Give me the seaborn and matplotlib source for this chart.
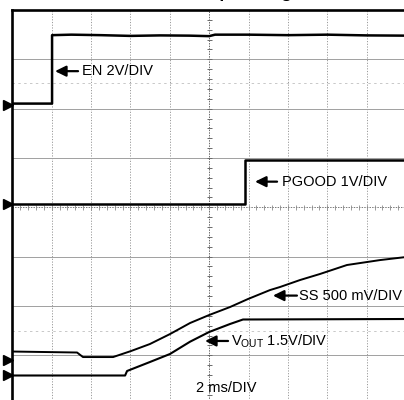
import numpy as np
import pandas as pd
import matplotlib
matplotlib.use("Agg")
import matplotlib.pyplot as plt
import seaborn as sns

# ---------------- data (time in ms, values in volts) ----------------
title = "Startup Timing"

en_t = [0.0, 2.02, 2.02, 3.0, 4.5, 6.0, 7.5, 9.0, 10.0, 10.3, 12.0, 14.0, 16.0, 18.0, 20.0]
en_v = [0.045, 0.045, 2.82, 2.84, 2.82, 2.79, 2.81, 2.80, 2.78, 2.84, 2.84, 2.82, 2.84, 2.81, 2.80]

pg_t = [0.0, 11.82, 11.82, 20.0]
pg_v = [0.0, 0.0, 0.90, 0.90]

ss_t = [0.0, 3.29, 3.59, 5.12, 6.03, 6.99, 8.01, 9.03, 10.0, 11.06, 11.97, 13.09, 13.60,
        14.62, 15.63, 17.0, 18.68, 20.0]
ss_v = [0.083, 0.073, 0.027, 0.027, 0.088, 0.159, 0.260, 0.372, 0.453, 0.534, 0.615,
        0.706, 0.737, 0.808, 0.869, 0.960, 1.010, 1.041]

vo_t = [0.0, 5.73, 5.83, 6.99, 8.01, 9.03, 10.0, 11.06, 11.72, 20.0]
vo_v = [0.0, 0.0, 0.137, 0.41, 0.654, 1.028, 1.323, 1.566, 1.703, 1.718]

channels = ["EN", "PGOOD", "SS", "VOUT"]
volts_per_div = [2.0, 1.0, 0.5, 1.5]
labels = ["EN 2V/DIV", "PGOOD 1V/DIV", "SS 500 mV/DIV", "V$_{\\mathrm{OUT}}$ 1.5V/DIV"]
timebase = "2 ms/DIV"

# ---------------- style / layout ----------------
sns.set_theme(style="white")
plt.rcParams["font.family"] = ["Liberation Sans", "DejaVu Sans"]
plt.rcParams["mathtext.fontset"] = "custom"
plt.rcParams["mathtext.rm"] = "Liberation Sans"
plt.rcParams["mathtext.it"] = "Liberation Sans:italic"

offsets_div = [6.08, 4.06, 0.91, 0.59]      # ground-marker position of each channel
line_w = [1.8, 1.8, 1.4, 1.5]
label_pos = [(2.17, 3.34, 3.54, 6.76), (12.33, 13.45, 13.70, 4.52),
             (13.24, 14.46, 14.56, 2.21), (9.79, 10.96, 11.11, 1.29)]

fig = plt.figure(figsize=(4.04, 4.0), dpi=100)
ax = fig.add_axes([12.3 / 404, 1 - 404.6 / 400, 393.7 / 404, 394.6 / 400])
ax.set_xlim(0, 20)
ax.set_ylim(0, 8)
ax.set_xticks([])
ax.set_yticks([])
for s in ["right", "bottom"]:
    ax.spines[s].set_visible(False)
for s in ["left", "top"]:
    ax.spines[s].set_color("black")
    ax.spines[s].set_linewidth(1.9)
    ax.spines[s].set_zorder(5)

# graticule
for x in np.arange(2, 20, 2):
    if x == 10:
        continue
    ax.axvline(x, color="#9a9a9a", lw=0.7, ls=(0, (1.2, 1.6)), zorder=0)
for y in np.arange(1, 8, 1):
    if y == 4:
        continue
    ax.axhline(y, color="#a0a0a0", lw=0.7, zorder=0)
for y in [6.53, 1.5]:
    ax.axhline(y, color="#c8c8c8", lw=0.7, ls=(0, (2.5, 3.5)), zorder=0)
ax.axvline(10, color="#6a6a6a", lw=0.7, ls=(0, (1.5, 1.2)), zorder=0)
ax.axhline(4, color="#7a7a7a", lw=0.7, ls=(0, (1.5, 1.2)), zorder=0)
ax.hlines(np.arange(0.2, 8, 0.2), 10 - 0.12, 10 + 0.12, color="#6a6a6a", lw=0.7, zorder=0)
ax.vlines(np.arange(0.4, 20, 0.4), 4 - 0.045, 4 + 0.045, color="#8a8a8a", lw=0.6, zorder=0)

# traces
series = [(en_t, en_v), (pg_t, pg_v), (ss_t, ss_v), (vo_t, vo_v)]
for name, (t, v), vpd, off, lw in zip(channels, series, volts_per_div, offsets_div, line_w):
    df = pd.DataFrame({"t": t, "div": np.array(v) / vpd + off})
    sns.lineplot(data=df, x="t", y="div", estimator=None, sort=False, color="black",
                 lw=lw, ax=ax, zorder=3)
    ax.plot([-0.22], [off], marker=">", ms=6.5, color="black", clip_on=False, zorder=6)

# labels with arrows
for lab, (tip, tail, tx, ty) in zip(labels, label_pos):
    ax.annotate("", xy=(tip, ty), xytext=(tail, ty),
                arrowprops=dict(arrowstyle="-|>,head_length=0.65,head_width=0.32",
                                lw=1.6, color="black", shrinkA=0, shrinkB=0,
                                mutation_scale=10), zorder=4)
    ax.text(tx, ty, lab, ha="left", va="center", fontsize=10.5, color="black", zorder=4)

ax.text(10.86, 0.34, timebase, ha="center", va="center", fontsize=10.5, color="black")
ax.set_xlabel("")
ax.set_ylabel("")

fig.text(0.57, 1 + 2.0 / 400, title, ha="center", va="baseline", fontsize=12.5,
         fontweight="bold", color="black")

fig.savefig("out.png", dpi=100)
